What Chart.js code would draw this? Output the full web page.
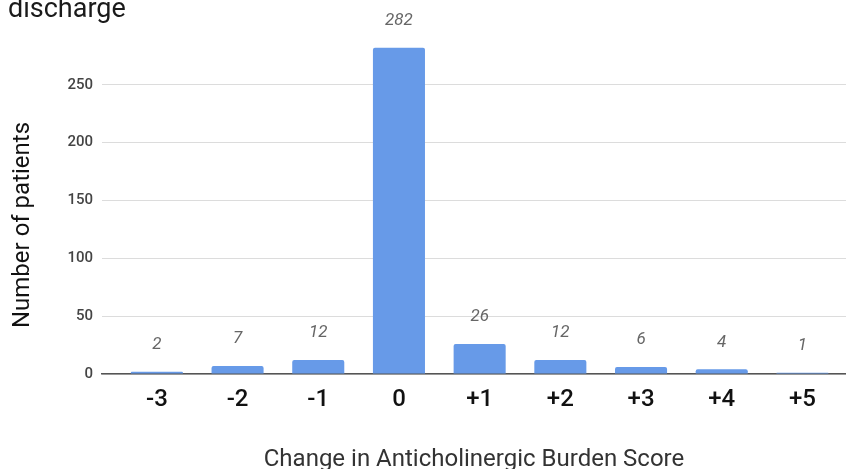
<!DOCTYPE html>
<html>
<head>
<meta charset="utf-8">
<script src="https://cdn.jsdelivr.net/npm/chart.js@4"></script>
<style>
html,body{margin:0;padding:0;background:#fff;}
#wrap{width:846px;height:469px;position:relative;}
</style>
</head>
<body>
<div id="wrap"><canvas id="c" width="846" height="469"></canvas></div>
<script>
const categories = ['-3','-2','-1','0','+1','+2','+3','+4','+5'];
const patients = [2, 7, 12, 282, 26, 12, 6, 4, 1];
const yTicks = [0, 50, 100, 150, 200, 250];
const titleText = 'discharge';
const yTitle = 'Number of patients';
const xTitle = 'Change in Anticholinergic Burden Score';

const FONT = 'Roboto, "Noto Sans", Arial, sans-serif';

const points = categories.map((c, i) => ({x: i - 3, y: patients[i]}));

const overlay = {
  id: 'overlay',
  afterDatasetsDraw(chart) {
    const ctx = chart.ctx;
    const meta = chart.getDatasetMeta(0);
    ctx.save();
    ctx.font = 'italic 17px ' + FONT;
    ctx.fillStyle = '#666';
    ctx.textAlign = 'center';
    ctx.textBaseline = 'middle';
    meta.data.forEach((bar, i) => {
      ctx.fillText(String(patients[i]), bar.x, bar.y - 27);
    });
    ctx.restore();
  },
  afterDraw(chart) {
    const ctx = chart.ctx;
    ctx.save();
    ctx.fillStyle = '#1a1a1a';
    ctx.font = '27px ' + FONT;
    ctx.textAlign = 'left';
    ctx.textBaseline = 'alphabetic';
    ctx.fillText(titleText, 8, 17);
    ctx.translate(23, 225);
    ctx.rotate(-Math.PI / 2);
    ctx.textAlign = 'center';
    ctx.textBaseline = 'middle';
    ctx.fillStyle = '#111';
    ctx.font = '24px ' + FONT;
    ctx.fillText(yTitle, 0, 0);
    ctx.restore();
  }
};

new Chart(document.getElementById('c'), {
  type: 'bar',
  data: {
    datasets: [{
      data: points,
      backgroundColor: '#679ae8',
      borderWidth: 0,
      borderRadius: {topLeft: 2, topRight: 2},
      borderSkipped: 'bottom',
      barPercentage: 0.645,
      categoryPercentage: 1
    }]
  },
  options: {
    responsive: false,
    animation: false,
    devicePixelRatio: 1,
    layout: {padding: {top: 27, left: 0, right: 0, bottom: 0}},
    plugins: {legend: {display: false}, tooltip: {enabled: false}, title: {display: false}},
    scales: {
      x: {
        type: 'linear',
        min: -3.68,
        max: 5.54,
        offset: false,
        afterBuildTicks(scale) {
          scale.ticks = categories.map((c, i) => ({value: i - 3}));
        },
        afterFit(scale) { scale.height = 95; },
        grid: {display: false, drawTicks: false},
        border: {display: true, color: '#555', width: 1.5},
        ticks: {
          padding: 12,
          color: '#111',
          font: {family: FONT, size: 24, weight: '500'},
          callback: (v) => categories[Math.round(v) + 3] ?? ''
        },
        title: {
          display: true,
          text: xTitle,
          color: '#333',
          font: {family: FONT, size: 24},
          padding: {top: 30, bottom: -5}
        }
      },
      y: {
        min: 0,
        max: 300,
        afterBuildTicks(scale) {
          scale.ticks = yTicks.map(v => ({value: v}));
        },
        afterFit(scale) { scale.width = 102; },
        grid: {color: '#dcdcdc', lineWidth: 1, drawTicks: false},
        border: {display: false},
        ticks: {
          padding: 9,
          color: '#444',
          font: {family: FONT, size: 15, weight: '500'}
        }
      }
    }
  },
  plugins: [overlay]
});
</script>
</body>
</html>
